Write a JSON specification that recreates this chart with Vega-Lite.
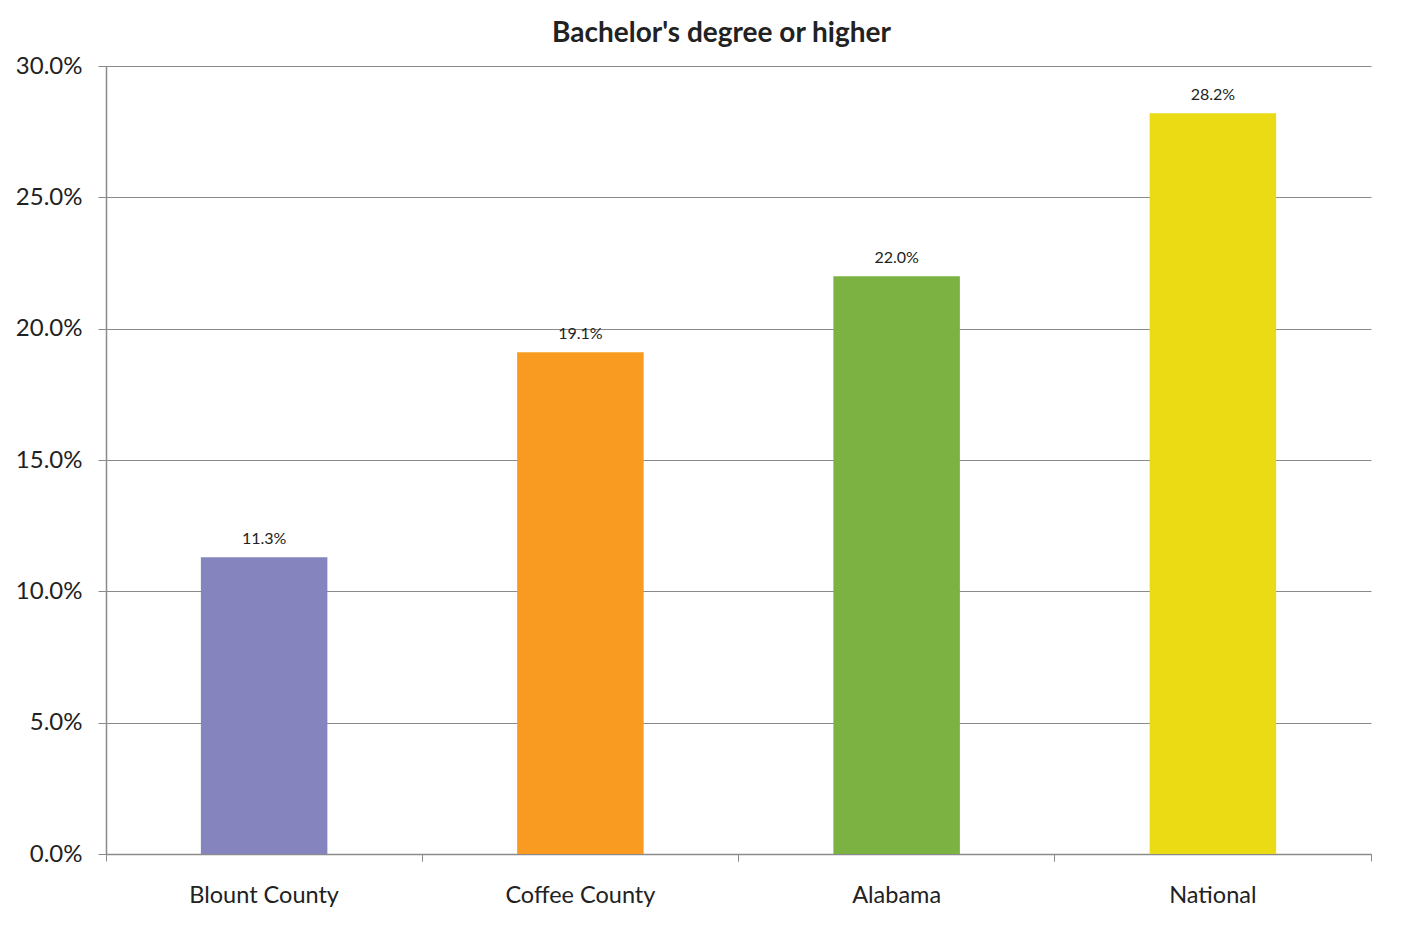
{
  "$schema": "https://vega.github.io/schema/vega-lite/v6.json",
  "width": 1265,
  "height": 788,
  "autosize": {"type": "none"},
  "padding": {"left": 106, "top": 66, "right": 48, "bottom": 91},
  "background": "white",
  "title": {
    "text": "Bachelor's degree or higher",
    "font": "Lato",
    "fontSize": 28,
    "fontWeight": "bold",
    "color": "#222222",
    "anchor": "middle",
    "dx": -17,
    "offset": 6
  },
  "data": {
    "values": [
      {"area": "Blount County", "share": 0.113},
      {"area": "Coffee County", "share": 0.191},
      {"area": "Alabama", "share": 0.220},
      {"area": "National", "share": 0.282}
    ]
  },
  "encoding": {
    "x": {
      "field": "area",
      "type": "nominal",
      "sort": null,
      "scale": {"paddingInner": 0, "paddingOuter": 0}
    },
    "y": {
      "field": "share",
      "type": "quantitative",
      "scale": {"domain": [0, 0.3], "nice": false}
    }
  },
  "layer": [
    {
      "mark": {"type": "bar", "width": {"band": 0.4}},
      "encoding": {
        "x": {
          "field": "area",
          "type": "nominal",
          "sort": null,
          "title": null,
          "axis": {
            "bandPosition": 0,
            "labelAngle": 0,
            "labelFont": "Lato",
            "labelFontSize": 23.5,
            "labelColor": "#222222",
            "labelPadding": 22,
            "labelAlign": "center",
            "labelBaseline": "top",
            "tickSize": 7,
            "tickColor": "#8a8a8a",
            "domainColor": "#8a8a8a",
            "domainWidth": 1.5,
            "grid": false
          }
        },
        "y": {
          "field": "share",
          "type": "quantitative",
          "title": null,
          "axis": {
            "values": [0, 0.05, 0.1, 0.15, 0.2, 0.25, 0.3],
            "format": ".1%",
            "labelFont": "Lato",
            "labelFontSize": 24,
            "labelColor": "#222222",
            "labelPadding": 16,
            "tickSize": 8,
            "tickColor": "#8a8a8a",
            "domainColor": "#8a8a8a",
            "domainWidth": 1.5,
            "grid": true,
            "gridColor": "#8a8a8a",
            "gridWidth": 1.2
          }
        },
        "color": {
          "field": "area",
          "type": "nominal",
          "sort": null,
          "legend": null,
          "scale": {
            "domain": ["Blount County", "Coffee County", "Alabama", "National"],
            "range": ["#8684be", "#f89b20", "#7bb241", "#eadb14"]
          }
        }
      }
    },
    {
      "mark": {
        "type": "text",
        "baseline": "bottom",
        "dy": -10,
        "font": "Lato",
        "fontSize": 16,
        "color": "#222222"
      },
      "encoding": {
        "x": {
          "field": "area",
          "type": "nominal",
          "sort": null,
          "title": null,
          "axis": {
            "orient": "bottom",
            "bandPosition": 1,
            "labels": false,
            "domain": false,
            "grid": false,
            "tickSize": 7,
            "tickColor": "#8a8a8a"
          }
        },
        "text": {"field": "share", "type": "quantitative", "format": ".1%"}
      }
    }
  ],
  "resolve": {"axis": {"x": "independent"}},
  "config": {"view": {"stroke": null}}
}
